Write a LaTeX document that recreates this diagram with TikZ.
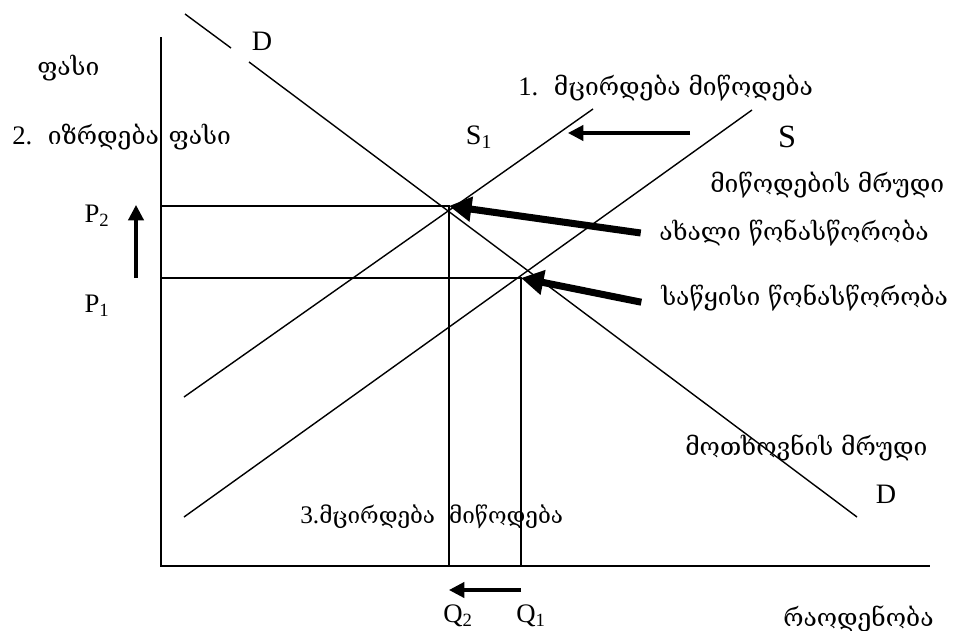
\documentclass[tikz,border=0pt]{standalone}
\usepackage{fontspec}
\setmainfont{Liberation Serif}
\newfontfamily\geo{DejaVu Serif}
\usetikzlibrary{arrows.meta,calc}

\begin{document}
\begin{tikzpicture}[x=0.025cm,y=-0.025cm,
		axis/.style={line width=1.4pt},
		curve/.style={line width=1pt},
		guide/.style={line width=1.1pt},
		shiftarrow/.style={line width=2.2pt,-{Triangle[length=11pt,width=11pt]}},
		eqarrow/.style={line width=5pt,-{Triangle[length=16pt,width=17pt]}},
		lat/.style={font=\fontsize{20}{24}\selectfont},
		sub/.style={font=\fontsize{19}{22}\selectfont},
		geotxt/.style={font=\geo\fontsize{17.5}{21}\selectfont,anchor=west,inner sep=0pt}]
		\useasboundingbox (0,0) rectangle (954,631);

		\coordinate (O) at (161,566);
		\coordinate (ytop) at (161,37);
		\coordinate (xend) at (930,566);
		\coordinate (E2) at (449,206);
		\coordinate (E1) at (521,278);
		\coordinate (P2) at (161,206);
		\coordinate (P1) at (161,278);
		\coordinate (Q2) at (449,566);
		\coordinate (Q1) at (521,566);

		\draw[axis] (ytop) -- (O) -- (xend);

		\draw[curve] (185,14) -- (231,48) (249,62) -- (857,517);
		\draw[curve] (184,397) -- (593,109);
		\draw[curve] (184,517) -- (752,110);

		\draw[guide] (P2) -- (E2) -- (Q2);
		\draw[guide] (P1) -- (E1) -- (Q1);

		\node[lat] (dtop) at (262,41) {D};
		\node[lat] (dbot) at (886,494) {D};
		\node[lat] (s1) at (479,137) {S\textsubscript{1}};
		\node[lat,font=\fontsize{23}{27}\selectfont] (s0) at (787,137) {S};
		\node[sub] (p2) at (97,216) {P\textsubscript{2}};
		\node[sub] (p1) at (97,306) {P\textsubscript{1}};
		\node[sub] (q2) at (458,616) {Q\textsubscript{2}};
		\node[sub] (q1) at (531,616) {Q\textsubscript{1}};

		\node[geotxt] (price) at (37,68) {ფასი};
		\node[geotxt] (rise) at (12,137) {{\rmfamily\fontsize{19}{21}\selectfont 2.}\ \ იზრდება\hspace{7pt}ფასი};
		\node[geotxt] (cut) at (518,88) {{\rmfamily\fontsize{19}{21}\selectfont 1.}\ \ მცირდება მიწოდება};
		\node[geotxt] (supply) at (710,185) {მიწოდების მრუდი};
		\node[geotxt] (newlbl) at (659,233) {ახალი წონასწორობა};
		\node[geotxt] (oldlbl) at (661,298) {საწყისი წონასწორობა};
		\node[geotxt] (demand) at (685,448) {მოთხოვნის მრუდი};
		\node[geotxt,font=\geo\fontsize{16}{19}\selectfont] (less) at (300,517) {{\rmfamily\fontsize{18}{21}\selectfont 3.}მცირდება\hspace{10pt}მიწოდება};
		\node[geotxt] (qty) at (783,619) {რაოდენობა};

		\coordinate (sfrom) at (690,133);
		\coordinate (sto) at (568,133);
		\draw[shiftarrow] (sfrom) -- (sto);
		\draw[shiftarrow] (136,278) -- (136,205);
		\draw[shiftarrow] (521,590) -- (449,590);

		\draw[eqarrow] ([xshift=-13pt]newlbl.west) -- (E2);
		\draw[eqarrow] ([xshift=-14pt,yshift=-3pt]oldlbl.west) -- (E1);
	\end{tikzpicture}
\end{document}
